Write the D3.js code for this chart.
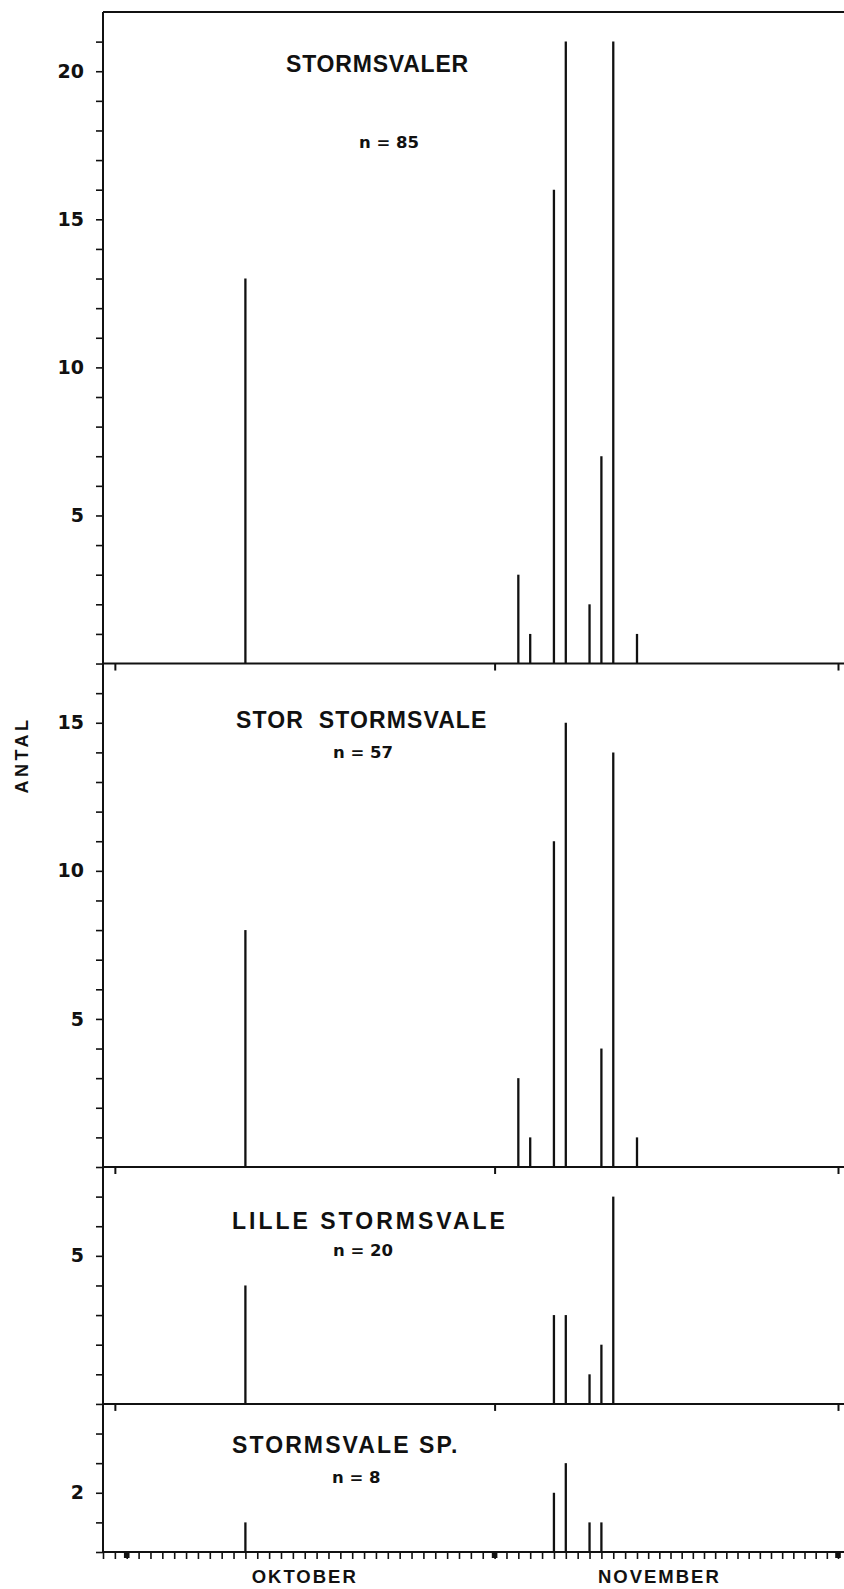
<!DOCTYPE html>
<html>
<head>
<meta charset="utf-8">
<script src="https://cdn.jsdelivr.net/npm/d3@7"></script>
<style>
    body { margin: 0; background: #fff; }
    text { fill: #111; }
</style>
</head>
<body>
<div id="chart"></div>
<script>
// data
var year = 1984;
var obsDates = ["10-11", "11-03", "11-04", "11-06", "11-07", "11-09", "11-10", "11-11", "11-13"];
var stormsvaler     = [13, 3, 1, 16, 21, 2, 7, 21, 1];
var storStormsvale  = [8, 3, 1, 11, 15, 0, 4, 14, 1];
var lilleStormsvale = [4, 0, 0, 3, 3, 1, 2, 7, 0];
var stormsvaleSp    = [1, 0, 0, 2, 3, 1, 1, 0, 0];

var titles = ["STORMSVALER", "STOR  STORMSVALE", "LILLE STORMSVALE", "STORMSVALE SP."];
var nLabels = ["n = 85", "n = 57", "n = 20", "n = 8"];
var yMax = [22, 17, 8, 5];
var yLabels = [[5, 10, 15, 20], [5, 10, 15], [5], [2]];
var months = ["OKTOBER", "NOVEMBER"];
var monthLabelDates = ["10-16", "11-15"];
var monthStarts = ["10-01", "11-01", "12-01"];
var panelTickDates = ["09-30", "11-01", "12-01"];

var series = [stormsvaler, storStormsvale, lilleStormsvale, stormsvaleSp];

var parseDate = d3.timeParse("%Y-%m-%d");
function day(s) { return parseDate(year + "-" + s); }

var W = 844, H = 1589,
    top0 = 12, bottom0 = 1552, right = 844;

var svg = d3.select("#chart").append("svg")
    .attr("width", W).attr("height", H)
    .style("font-family", "'Liberation Sans', Arial, sans-serif");

svg.append("rect").attr("width", W).attr("height", H).attr("fill", "#fff");

// scanned axis is a little uneven, so the day scale is piecewise
var x = d3.scaleTime()
    .domain([day("09-29"), day("11-13"), day("12-01")])
    .range([103, 637, 838]);

var unit = (bottom0 - top0) / d3.sum(yMax);
var x0 = x(day("09-29"));

// per panel text layout
var titleX = [286, 236, 232, 232],
    titleY = [60, 64, 62, 49],
    titleSpacing = [0.8, 1.1, 3, 2.1],
    nX = [359, 333, 333, 332],
    nY = [136, 94, 89, 79];

var panelTop = top0;
series.forEach(function(vals, i) {
    var base = panelTop + yMax[i] * unit;
    var y = d3.scaleLinear().domain([0, yMax[i]]).range([base, panelTop]);
    var g = svg.append("g");

    var yAxis = d3.axisLeft(y)
        .tickValues(d3.range(0, yMax[i]))
        .tickSize(7)
        .tickPadding(12)
        .tickFormat(function(d) { return yLabels[i].indexOf(d) >= 0 ? d : ""; });

    var ya = g.append("g")
        .attr("transform", "translate(" + x0 + ",0)")
        .call(yAxis);
    ya.select(".domain").remove();
    ya.selectAll(".tick line").attr("stroke", "#111").attr("stroke-width", 1.6);
    ya.selectAll(".tick text")
        .attr("fill", "#111")
        .style("font-family", "'DejaVu Sans', sans-serif")
        .style("font-weight", "bold")
        .style("font-size", "19px");

    // bars (spikes)
    g.selectAll("line.bar")
        .data(obsDates.map(function(d, k) { return {date: day(d), value: vals[k]}; })
            .filter(function(d) { return d.value > 0; }))
        .enter().append("line")
        .attr("class", "bar")
        .attr("x1", function(d) { return x(d.date); })
        .attr("x2", function(d) { return x(d.date); })
        .attr("y1", y(0))
        .attr("y2", function(d) { return y(d.value); })
        .attr("stroke", "#111")
        .attr("stroke-width", 2.3);

    // baseline
    g.append("line")
        .attr("x1", x0).attr("x2", right)
        .attr("y1", base).attr("y2", base)
        .attr("stroke", "#111").attr("stroke-width", 2);

    if (i < series.length - 1) {
        var sep = g.append("g")
            .attr("transform", "translate(0," + base + ")")
            .call(d3.axisBottom(x)
                .tickValues(panelTickDates.map(day))
                .tickSize(7)
                .tickFormat(""));
        sep.select(".domain").remove();
        sep.selectAll(".tick line").attr("stroke", "#111").attr("stroke-width", 2);
    } else {
        var xa = g.append("g")
            .attr("transform", "translate(0," + base + ")")
            .call(d3.axisBottom(x)
                .ticks(d3.timeDay.every(1))
                .tickSize(7)
                .tickFormat(""));
        xa.select(".domain").remove();
        xa.selectAll(".tick line").attr("stroke", "#111").attr("stroke-width", 1.6);

        g.selectAll("rect.month")
            .data(monthStarts.map(day))
            .enter().append("rect")
            .attr("class", "month")
            .attr("x", function(d) { return x(d) - 2.8; })
            .attr("y", base + 1)
            .attr("width", 5.6)
            .attr("height", 5)
            .attr("fill", "#111");

        g.selectAll("text.month")
            .data(months)
            .enter().append("text")
            .attr("class", "month")
            .attr("x", function(d, k) { return x(day(monthLabelDates[k])); })
            .attr("y", base + 31)
            .attr("text-anchor", "middle")
            .style("font-size", "18.5px")
            .style("font-weight", "bold")
            .style("letter-spacing", "2px")
            .text(function(d) { return d; });
    }

    g.append("text")
        .attr("x", titleX[i])
        .attr("y", panelTop + titleY[i])
        .style("font-size", "23px")
        .style("font-weight", "bold")
        .style("letter-spacing", titleSpacing[i] + "px")
        .style("white-space", "pre")
        .text(titles[i]);

    g.append("text")
        .attr("x", nX[i])
        .attr("y", panelTop + nY[i])
        .style("font-family", "'DejaVu Sans', sans-serif")
        .style("font-size", "16.5px")
        .style("font-weight", "bold")
        .text(nLabels[i]);

    panelTop = base;
});

// frame: left axis and top border
svg.append("line")
    .attr("x1", x0).attr("x2", x0)
    .attr("y1", top0).attr("y2", bottom0)
    .attr("stroke", "#111").attr("stroke-width", 2);
svg.append("line")
    .attr("x1", x0).attr("x2", right)
    .attr("y1", top0).attr("y2", top0)
    .attr("stroke", "#111").attr("stroke-width", 2);

svg.append("text")
    .attr("transform", "translate(28,755) rotate(-90)")
    .attr("text-anchor", "middle")
    .style("font-size", "18px")
    .style("font-weight", "bold")
    .style("letter-spacing", "3.5px")
    .text("ANTAL");
</script>
</body>
</html>
